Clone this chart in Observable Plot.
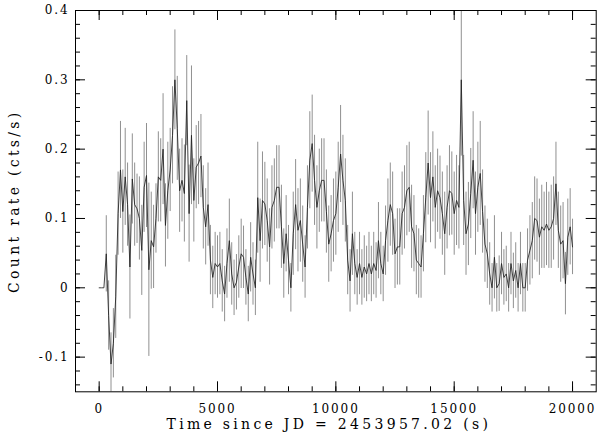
<!DOCTYPE html>
<html><head><meta charset="utf-8">
<script src="https://cdn.jsdelivr.net/npm/d3@7"></script>
<script src="https://cdn.jsdelivr.net/npm/@observablehq/plot@0.6"></script>
<style>
html,body{margin:0;padding:0;background:#fff;}
#chart svg .ticklab text{letter-spacing:1.9px;}
#chart svg .title text{letter-spacing:3.3px;}
</style></head><body><div id="chart"></div>
<script>
const time = [
  0,100,200,300,400,500,600,700,800,900,
  1000,1100,1200,1300,1400,1500,1600,1700,1800,1900,
  2000,2100,2200,2300,2400,2500,2600,2700,2800,2900,
  3000,3100,3200,3300,3400,3500,3600,3700,3800,3900,
  4000,4100,4200,4300,4400,4500,4600,4700,4800,4900,
  5000,5100,5200,5300,5400,5500,5600,5700,5800,5900,
  6000,6100,6200,6300,6400,6500,6600,6700,6800,6900,
  7000,7100,7200,7300,7400,7500,7600,7700,7800,7900,
  8000,8100,8200,8300,8400,8500,8600,8700,8800,8900,
  9000,9100,9200,9300,9400,9500,9600,9700,9800,9900,
  10000,10100,10200,10300,10400,10500,10600,10700,10800,10900,
  11000,11100,11200,11300,11400,11500,11600,11700,11800,11900,
  12000,12100,12200,12300,12400,12500,12600,12700,12800,12900,
  13000,13100,13200,13300,13400,13500,13600,13700,13800,13900,
  14000,14100,14200,14300,14400,14500,14600,14700,14800,14900,
  15000,15100,15200,15300,15400,15500,15600,15700,15800,15900,
  16000,16100,16200,16300,16400,16500,16600,16700,16800,16900,
  17000,17100,17200,17300,17400,17500,17600,17700,17800,17900,
  18000,18100,18200,18300,18400,18500,18600,18700,18800,18900,
  19000,19100,19200,19300,19400,19500,19600,19700,19800,19900,
  20000
];
const rate = [
  0, 0, 0, 0.049, -0.04, -0.11, -0.08, -0.013, 0.107, 0.17,
  0.11, 0.16, 0.12, 0.03, 0.157, 0.12, 0.114, 0.10, 0.054, 0.145,
  0.162, 0.026, 0.068, 0.059, 0.10, 0.16, 0.155, 0.2, 0.09, 0.14,
  0.17, 0.22, 0.30, 0.23, 0.14, 0.155, 0.136, 0.27, 0.107, 0.22,
  0.126, 0.174, 0.18, 0.19, 0.116, 0.088, 0.12, 0.04, 0.015, 0.035,
  0.03, 0.035, 0.01, -0.009, 0.035, 0.068, 0.02, 0.0, 0.008, 0.03,
  0.049, 0.044, 0.015, -0.009, 0.044, 0.02, 0.0, 0.13, 0.068, 0.126,
  0.121, 0.097, 0.059, 0.116, 0.126, 0.145, 0.145, 0.088, 0.035, 0.078,
  0.04, 0.0, 0.078, 0.12, 0.083, 0.097, 0.063, 0.03, 0.116, 0.184,
  0.208, 0.155, 0.116, 0.14, 0.155, 0.155, 0.11, 0.063, 0.078, 0.097,
  0.107, 0.145, 0.193, 0.155, 0.126, 0.04, 0.01, 0.078, 0.035, 0.015,
  0.035, 0.015, 0.03, 0.02, 0.035, 0.02, 0.035, 0.025, 0.068, 0.035,
  0.02, 0.068, 0.097, 0.12, 0.107, 0.049, 0.059, 0.059, 0.107, 0.116,
  0.14, 0.145, 0.088, 0.078, 0.04, 0.035, 0.03, 0.078, 0.13, 0.18,
  0.13, 0.16, 0.116, 0.14, 0.13, 0.107, 0.078, 0.116, 0.14, 0.136,
  0.107, 0.126, 0.116, 0.30, 0.126, 0.078, 0.092, 0.136, 0.184, 0.107,
  0.145, 0.165, 0.11, 0.063, 0.049, 0.02, 0.0, 0.044, 0.0, 0.006,
  0.035, 0.015, 0.02, 0.0, 0.035, 0.01, 0.025, 0.0, 0.035, 0.0,
  0.0, 0.04, 0.054, 0.068, 0.10, 0.097, 0.073, 0.088, 0.083, 0.092,
  0.083, 0.088, 0.10, 0.15, 0.083, 0.063, 0.068, 0.006, 0.073, 0.088,
  0.059
];
const rateErr = [
  0, 0, 0, 0.055, 0.05, 0.045, 0.05, 0.06, 0.06, 0.07,
  0.06, 0.07, 0.06, 0.075, 0.065, 0.06, 0.05, 0.06, 0.065, 0.065,
  0.075, 0.125, 0.07, 0.06, 0.05, 0.065, 0.06, 0.08, 0.06, 0.07,
  0.06, 0.07, 0.072, 0.075, 0.06, 0.06, 0.07, 0.065, 0.07, 0.1,
  0.06, 0.06, 0.06, 0.06, 0.06, 0.055, 0.06, 0.05, 0.045, 0.045,
  0.045, 0.045, 0.045, 0.04, 0.05, 0.06, 0.045, 0.04, 0.04, 0.045,
  0.05, 0.045, 0.04, 0.04, 0.05, 0.045, 0.04, 0.08, 0.06, 0.07,
  0.06, 0.06, 0.055, 0.06, 0.06, 0.06, 0.06, 0.06, 0.05, 0.055,
  0.05, 0.035, 0.06, 0.065, 0.06, 0.06, 0.055, 0.045, 0.06, 0.07,
  0.07, 0.065, 0.06, 0.06, 0.06, 0.06, 0.06, 0.055, 0.055, 0.06,
  0.06, 0.065, 0.07, 0.065, 0.06, 0.05, 0.045, 0.06, 0.045, 0.04,
  0.045, 0.04, 0.045, 0.04, 0.045, 0.04, 0.045, 0.04, 0.055, 0.045,
  0.04, 0.05, 0.06, 0.06, 0.06, 0.05, 0.055, 0.055, 0.06, 0.06,
  0.065, 0.065, 0.06, 0.055, 0.05, 0.05, 0.045, 0.055, 0.065, 0.075,
  0.065, 0.065, 0.06, 0.06, 0.06, 0.06, 0.06, 0.06, 0.065, 0.06,
  0.06, 0.065, 0.06, 0.11, 0.065, 0.06, 0.06, 0.065, 0.07, 0.06,
  0.065, 0.075, 0.06, 0.055, 0.05, 0.045, 0.035, 0.06, 0.035, 0.04,
  0.045, 0.04, 0.04, 0.035, 0.045, 0.04, 0.04, 0.035, 0.045, 0.035,
  0.035, 0.045, 0.05, 0.055, 0.06, 0.06, 0.055, 0.06, 0.055, 0.06,
  0.055, 0.06, 0.06, 0.06, 0.055, 0.055, 0.055, 0.045, 0.055, 0.055,
  0.04
];
const xMajorTicks = [0, 5000, 10000, 15000, 20000];
const xTickLabels = ["0", "5000", "10000", "15000", "20000"];
const xMinorTicks = [0,1000,2000,3000,4000,5000,6000,7000,8000,9000,10000,11000,12000,13000,14000,15000,16000,17000,18000,19000,20000];
const yMajorTicks = [-0.1, 0, 0.1, 0.2, 0.3, 0.4];
const yTickLabels = ["-0.1", "0", "0.1", "0.2", "0.3", "0.4"];
const yMinorTicks = [-0.14,-0.12,-0.1,-0.08,-0.06,-0.04,-0.02,0,0.02,0.04,0.06,0.08,0.1,0.12,0.14,0.16,0.18,0.2,0.22,0.24,0.26,0.28,0.3,0.32,0.34,0.36,0.38,0.4];
const xTitle = "Time since JD = 2453957.02 (s)";
const yTitle = "Count rate (cts/s)";

const W = 600, H = 438, mL = 75, mR = 4.3, mT = 10, mB = 46.7;
const frameH = H - mT - mB, frameW = W - mL - mR;
const data = time.map((t, i) => ({t, v: rate[i], e: rateErr[i]}));
const bars = data.filter(d => d.e > 0);

const plot = Plot.plot({
  width: W, height: H,
  marginLeft: mL, marginRight: mR, marginTop: mT, marginBottom: mB,
  style: {fontFamily: "'DejaVu Serif', serif", fontSize: "12px", color: "#000", background: "#fff"},
  x: {domain: [-1000, 21000], label: null},
  y: {domain: [-0.15, 0.4], label: null},
  marks: [
    Plot.ruleX(bars, {x: "t", y1: d => d.v - d.e, y2: d => d.v + d.e, stroke: "#909090", strokeWidth: 1, clip: true}),
    Plot.line(data, {x: "t", y: "v", stroke: "#222", strokeWidth: 0.85, clip: true}),
    Plot.frame({stroke: "#000", strokeWidth: 1}),
    Plot.tickX(xMinorTicks, {x: d => d, insetTop: frameH - 5, stroke: "#000"}),
    Plot.tickX(xMinorTicks, {x: d => d, insetBottom: frameH - 5, stroke: "#000"}),
    Plot.tickX(xMajorTicks, {x: d => d, insetTop: frameH - 10, stroke: "#000"}),
    Plot.tickX(xMajorTicks, {x: d => d, insetBottom: frameH - 10, stroke: "#000"}),
    Plot.tickY(yMinorTicks, {y: d => d, insetRight: frameW - 5, stroke: "#000"}),
    Plot.tickY(yMinorTicks, {y: d => d, insetLeft: frameW - 5, stroke: "#000"}),
    Plot.tickY(yMajorTicks, {y: d => d, insetRight: frameW - 10, stroke: "#000"}),
    Plot.tickY(yMajorTicks, {y: d => d, insetLeft: frameW - 10, stroke: "#000"}),
    Plot.axisX(xMajorTicks, {anchor: "bottom", tickSize: 0, tickPadding: 13, fontSize: 12,
      tickFormat: d => xTickLabels[xMajorTicks.indexOf(d)], className: "ticklab", label: null}),
    Plot.axisY(yMajorTicks, {anchor: "left", tickSize: 0, tickPadding: 6, fontSize: 12,
      tickFormat: d => yTickLabels[yMajorTicks.indexOf(d)], className: "ticklab", label: null}),
    Plot.text([xTitle], {frameAnchor: "bottom", textAnchor: "middle", lineAnchor: "middle", dy: 33, dx: -7, fontSize: 14, className: "title"}),
    Plot.text([yTitle], {frameAnchor: "left", textAnchor: "middle", lineAnchor: "middle", dx: -61, rotate: -90, fontSize: 14, className: "title"})
  ]
});
document.getElementById("chart").appendChild(plot);
</script>
</body></html>
